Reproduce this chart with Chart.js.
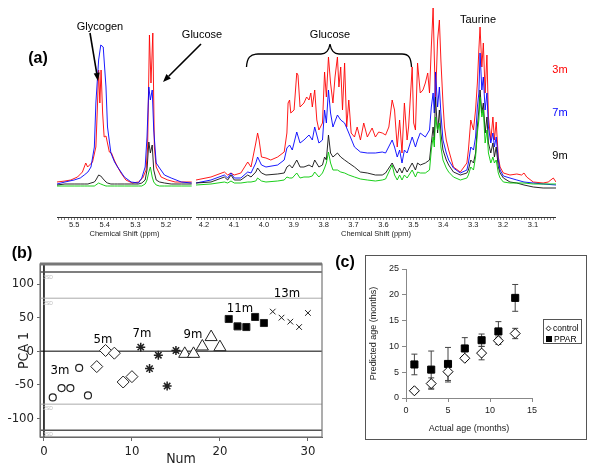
<!DOCTYPE html>
<html>
<head>
<meta charset="utf-8">
<script src="https://cdn.jsdelivr.net/npm/chart.js@4.4.0/dist/chart.umd.min.js"></script>
<style>
  body { margin: 0; background: #fff; }
  #page { position: relative; width: 600px; height: 476px; overflow: hidden; font-family: "Liberation Sans", Arial, sans-serif; }
  canvas { position: absolute; }
  .lbl { position: absolute; transform: translate(-50%, -50%); white-space: nowrap; line-height: 1; }
  .panel { font-weight: bold; font-size: 16px; }
  .note { font-size: 11px; }
  .grp { font-size: 13px; font-family: "Liberation Sans Narrow", "DejaVu Sans Condensed", sans-serif; }
  .sd { font-size: 5px; color: #bbb; }
  #cBox { position: absolute; left: 365px; top: 255px; width: 222px; height: 185px; border: 1px solid #555; box-sizing: border-box; }
  #cLegend { position: absolute; left: 543px; top: 319px; width: 39px; height: 25px; border: 1px solid #555; box-sizing: border-box; font-size: 8.5px; }
  #cLegend div { position: absolute; left: 2px; line-height: 1; white-space: nowrap; }
  .mk { display: inline-block; width: 5px; height: 5px; margin-right: 2px; box-sizing: border-box; }
</style>
</head>
<body>
<div id="page">
  <canvas id="specL" width="135" height="240" style="left:57px;top:0"></canvas>
  <canvas id="specR" width="360" height="240" style="left:196px;top:0"></canvas>
  <canvas id="pcaChart" width="340" height="236" style="left:0;top:240px"></canvas>
  <div id="cBox"><canvas id="ageChart" width="220" height="183" style="left:0;top:0"></canvas></div>

  <svg width="600" height="476" style="position:absolute;left:0;top:0">
    <!-- setas e chave das anotações -->
    <line x1="90" y1="33" x2="96.7" y2="73.1" stroke="#000" stroke-width="1.6"/>
    <polygon points="98,81 93.7,73.6 99.7,72.6" fill="#000"/>
    <line x1="201" y1="44" x2="168.7" y2="76.3" stroke="#000" stroke-width="1.6"/>
    <polygon points="163,82 170.9,78.6 166.4,74.1" fill="#000"/>
    <path d="M246.5,67 C247,58 250,54 258,54 L321,54 C326,54 329,50 330,44 C331,50 334,54 339,54 L402,54 C409,54 411,58 411.5,67" stroke="#000" stroke-width="1.3" fill="none"/>
  </svg>

  <div class="lbl panel" style="left:38px;top:58px">(a)</div>
  <div class="lbl panel" style="left:22px;top:253px">(b)</div>
  <div class="lbl panel" style="left:345px;top:262px">(c)</div>

  <div class="lbl note" style="left:100px;top:26px">Glycogen</div>
  <div class="lbl note" style="left:202px;top:34px">Glucose</div>
  <div class="lbl note" style="left:330px;top:34px">Glucose</div>
  <div class="lbl note" style="left:478px;top:19px">Taurine</div>
  <div class="lbl note" style="left:560px;top:69px;color:#f00">3m</div>
  <div class="lbl note" style="left:560px;top:112px;color:#00f">7m</div>
  <div class="lbl note" style="left:560px;top:155px;color:#000">9m</div>

  <div class="lbl grp" style="left:60px;top:369px">3m</div>
  <div class="lbl grp" style="left:103px;top:338px">5m</div>
  <div class="lbl grp" style="left:142px;top:332px">7m</div>
  <div class="lbl grp" style="left:193px;top:333px">9m</div>
  <div class="lbl grp" style="left:240px;top:307px">11m</div>
  <div class="lbl grp" style="left:287px;top:292px">13m</div>
  <div class="lbl sd" style="left:48px;top:277px">3SD</div>
  <div class="lbl sd" style="left:48px;top:303px">2SD</div>
  <div class="lbl sd" style="left:48px;top:408px">2SD</div>
  <div class="lbl sd" style="left:48px;top:434px">3SD</div>

  <div id="cLegend">
    <div style="top:4px"><span class="mk" style="border:1px solid #000;transform:rotate(45deg) scale(0.85)"></span>control</div>
    <div style="top:15px"><span class="mk" style="background:#000;width:6px;height:6px"></span>PPAR</div>
  </div>
</div>

<script>
Chart.defaults.font.family = '"Liberation Sans", Arial, sans-serif';
Chart.defaults.color = '#222';

// ---- (a) espectros: deslocamento químico (ppm) e intensidade relativa ----
const shiftLeftRed = [5.556, 5.53, 5.511, 5.489, 5.473, 5.462, 5.456, 5.44, 5.429, 5.424,
  5.42, 5.416, 5.412, 5.407, 5.402, 5.396, 5.385, 5.378, 5.369, 5.358,
  5.347, 5.331, 5.31, 5.29, 5.276, 5.265, 5.26, 5.254, 5.249, 5.243,
  5.238, 5.232, 5.216, 5.194, 5.17, 5.116];
const left3m = [8, 9, 10, 13, 18, 27, 23, 28, 43, 83,
  120, 87, 120, 77, 53, 54, 38, 37, 30, 23,
  17, 10, 7, 8, 12, 20, 43, 155, 107, 157,
  43, 23, 13, 10, 8, 8];

const shiftLeft = [5.556, 5.53, 5.5, 5.48, 5.467, 5.455, 5.445, 5.434, 5.429, 5.42,
  5.413, 5.405, 5.396, 5.391, 5.38, 5.368, 5.358, 5.336, 5.314, 5.29,
  5.279, 5.268, 5.262, 5.256, 5.251, 5.245, 5.24, 5.232, 5.221, 5.205,
  5.183, 5.15, 5.116];
const left7m = [6, 8, 10, 12, 15, 18, 23, 43, 87, 130,
  145, 143, 103, 63, 37, 28, 23, 13, 8, 7,
  12, 23, 53, 103, 90, 100, 60, 27, 22, 15,
  12, 8, 7];
const left9m = [5, 6, 6, 6, 6, 6, 7, 8, 10, 15,
  14, 11, 8, 7, 6, 6, 6, 6, 6, 6,
  7, 10, 20, 48, 37, 45, 20, 10, 8, 7,
  6, 6, 6];
const left13m = [4, 4, 4, 4, 4, 4, 4, 4, 5, 7,
  6, 5, 4, 4, 4, 4, 4, 4, 4, 4,
  4, 6, 10, 18, 23, 13, 8, 5, 4, 4,
  4, 4, 4];

const shiftRightRed = [4.227, 4.177, 4.132, 4.121, 4.11, 4.099, 4.077, 4.054, 4.043, 4.027,
  4.021, 4.016, 4.008, 3.993, 3.977, 3.954, 3.932, 3.923, 3.919, 3.914,
  3.91, 3.899, 3.89, 3.886, 3.879, 3.866, 3.857, 3.849, 3.843, 3.838,
  3.83, 3.823, 3.816, 3.804, 3.797, 3.791, 3.784, 3.777, 3.769, 3.762,
  3.754, 3.749, 3.743, 3.737, 3.73, 3.723, 3.716, 3.708, 3.697, 3.688,
  3.677, 3.666, 3.654, 3.638, 3.627, 3.616, 3.604, 3.593, 3.582, 3.571,
  3.563, 3.554, 3.546, 3.538, 3.53, 3.521, 3.516, 3.504, 3.499, 3.493,
  3.486, 3.477, 3.468, 3.46, 3.452, 3.446, 3.44, 3.434, 3.43, 3.426,
  3.419, 3.413, 3.408, 3.401, 3.396, 3.39, 3.382, 3.366, 3.343, 3.321,
  3.316, 3.308, 3.299, 3.292, 3.286, 3.281, 3.277, 3.271, 3.266, 3.26,
  3.254, 3.249, 3.241, 3.234, 3.229, 3.223, 3.216, 3.21, 3.199, 3.177,
  3.154, 3.138, 3.13, 3.121, 3.099, 3.066, 3.049, 3.032, 3.023];
const right3m = [10, 13, 18, 15, 17, 15, 17, 28, 23, 47,
  57, 50, 33, 32, 30, 33, 38, 57, 87, 90,
  77, 80, 117, 115, 83, 87, 93, 90, 97, 83,
  100, 70, 60, 67, 118, 93, 133, 107, 87, 113,
  133, 103, 123, 80, 127, 63, 90, 57, 53, 63,
  50, 67, 53, 62, 53, 58, 57, 55, 63, 90,
  80, 43, 70, 37, 87, 50, 63, 123, 67, 60,
  127, 97, 100, 107, 117, 97, 143, 182, 133, 90,
  150, 170, 130, 87, 63, 50, 40, 23, 18, 27,
  40, 70, 60, 80, 107, 140, 163, 123, 147, 97,
  135, 73, 50, 73, 50, 68, 33, 23, 17, 15,
  16, 15, 17, 13, 8, 7, 8, 12, 8];

const shiftRight = [4.227, 4.177, 4.132, 4.121, 4.11, 4.099, 4.077, 4.054, 4.043, 4.027,
  4.021, 4.008, 3.993, 3.954, 3.932, 3.923, 3.914, 3.905, 3.89, 3.879,
  3.866, 3.849, 3.838, 3.83, 3.816, 3.804, 3.797, 3.791, 3.784, 3.777,
  3.769, 3.754, 3.743, 3.73, 3.716, 3.697, 3.677, 3.654, 3.627, 3.604,
  3.593, 3.571, 3.563, 3.554, 3.546, 3.538, 3.53, 3.521, 3.504, 3.493,
  3.486, 3.477, 3.46, 3.446, 3.44, 3.434, 3.43, 3.426, 3.419, 3.413,
  3.408, 3.401, 3.39, 3.382, 3.366, 3.343, 3.321, 3.316, 3.308, 3.299,
  3.292, 3.286, 3.281, 3.277, 3.271, 3.266, 3.26, 3.254, 3.249, 3.241,
  3.234, 3.229, 3.223, 3.216, 3.21, 3.199, 3.177, 3.154, 3.13, 3.099,
  3.066, 3.023];
const right7m = [7, 10, 15, 12, 17, 12, 12, 18, 17, 27,
  33, 25, 23, 25, 30, 42, 45, 40, 58, 47,
  50, 55, 50, 63, 47, 50, 80, 67, 100, 77,
  63, 75, 70, 67, 57, 43, 38, 37, 37, 38,
  37, 50, 43, 33, 40, 27, 40, 37, 53, 43,
  50, 57, 53, 60, 83, 97, 77, 118, 83, 103,
  77, 50, 37, 30, 22, 17, 20, 27, 43, 40,
  53, 83, 97, 137, 100, 113, 80, 97, 63, 47,
  57, 43, 53, 30, 20, 14, 12, 10, 8, 7,
  6, 5];
const right9m = [7, 8, 13, 10, 15, 10, 10, 15, 13, 18,
  22, 17, 15, 16, 17, 23, 25, 22, 30, 23,
  23, 25, 23, 30, 23, 25, 33, 30, 55, 37,
  33, 37, 33, 30, 27, 23, 18, 17, 15, 15,
  17, 27, 22, 17, 22, 17, 23, 18, 27, 20,
  27, 25, 27, 30, 47, 63, 50, 93, 57, 80,
  57, 40, 30, 25, 18, 15, 17, 20, 30, 27,
  37, 63, 80, 100, 77, 87, 57, 73, 47, 37,
  47, 33, 43, 23, 17, 12, 8, 7, 5, 3,
  2, 2];
const right13m = [5, 6, 8, 7, 9, 7, 7, 8, 8, 9,
  12, 9, 8, 9, 10, 13, 12, 12, 17, 12,
  13, 13, 14, 18, 13, 17, 22, 27, 38, 27,
  20, 20, 18, 17, 15, 13, 11, 10, 9, 10,
  11, 25, 15, 10, 15, 10, 15, 12, 20, 13,
  18, 17, 17, 20, 40, 53, 43, 73, 60, 67,
  43, 30, 22, 18, 13, 10, 12, 15, 23, 20,
  33, 57, 70, 93, 73, 80, 47, 60, 37, 27,
  33, 27, 30, 17, 12, 8, 7, 7, 7, 6,
  6, 6];

// ---- (b) PCA ----
const sampleNum = [1, 2, 3, 4, 5, 6, 7, 8, 9, 10, 11, 12, 13, 14, 15,
  16, 17, 18, 19, 20, 21, 22, 23, 24, 25, 26, 27, 28, 29, 30];
const pca1 = [-69, -55, -55, -25, -66, -23, 1, -3, -46, -38, 6, -26, -6, -52, 1,
  -4, -4, 7, 21, 6, 48, 37, 36, 51, 42, 59, 50, 44, 36, 57];
const ageGroups = ['3m', '5m', '7m', '9m', '11m', '13m'];
const limit3SD = 118;
const limit2SD = 79;

// ---- (c) idade prevista ----
const actualAge = [1, 3, 5, 7, 9, 11, 13];
const controlPred = [1.4, 2.8, 5.1, 7.7, 8.7, 11.1, 12.5];
const controlErr = [0.3, 1.1, 2.0, 0.4, 1.3, 0.7, 1.0];
const pparPred = [6.5, 5.5, 6.6, 9.6, 11.2, 12.9, 19.4];
const pparErr = [2.0, 3.6, 3.2, 2.1, 1.2, 1.9, 2.6];

const isTenth = v => Math.abs(v * 10 - Math.round(v * 10)) < 1e-6;

function trace(ppm, values, color) {
    return {
        data: ppm.map((p, i) => ({ x: p, y: values[i] })),
        borderColor: color,
        borderWidth: 0.9,
        pointRadius: 0,
        tension: 0,
        fill: false
    };
}

function spectrumChart(id, lo, hi, datasets) {
    new Chart(document.getElementById(id), {
        type: 'line',
        data: { datasets: datasets },
        options: {
            animation: false,
            responsive: false,
            layout: { padding: 0 },
            plugins: { legend: { display: false }, tooltip: { enabled: false } },
            scales: {
                x: {
                    type: 'linear', reverse: true, min: lo, max: hi,
                    ticks: {
                        stepSize: 0.01, includeBounds: false, autoSkip: false, maxRotation: 0, minRotation: 0,
                        padding: 0, color: '#222', font: { size: 7.5 },
                        callback: v => isTenth(v) ? v.toFixed(1) : ''
                    },
                    grid: { drawOnChartArea: false, tickLength: 3, color: '#666', lineWidth: 0.8 },
                    border: { color: '#333' },
                    title: { display: true, text: 'Chemical Shift (ppm)', color: '#222', font: { size: 7.5 }, padding: { top: 0, bottom: 2 } },
                    afterFit: s => { s.height = 23; }
                },
                y: { display: false, min: -27, max: 190 }
            }
        }
    });
}

spectrumChart('specL', 5.115, 5.556, [
    trace(shiftLeft, left13m, '#00c800'),
    trace(shiftLeft, left9m, '#111'),
    trace(shiftLeft, left7m, '#0000ff'),
    trace(shiftLeftRed, left3m, '#ff0000')
]);
spectrumChart('specR', 3.023, 4.227, [
    trace(shiftRight, right13m, '#00c800'),
    trace(shiftRight, right9m, '#111'),
    trace(shiftRight, right7m, '#0000ff'),
    trace(shiftRightRed, right3m, '#ff0000')
]);

// moldura da área do gráfico (b)
const frameBox = {
    id: 'frameBox',
    afterDraw(chart) {
        const { ctx, chartArea: a } = chart;
        ctx.save();
        ctx.strokeStyle = '#777';
        ctx.lineWidth = 1.2;
        ctx.strokeRect(a.left, a.top, a.width, a.height);
        ctx.lineWidth = 3;
        ctx.beginPath();
        ctx.moveTo(a.left, a.top);
        ctx.lineTo(a.right, a.top);
        ctx.stroke();
        ctx.restore();
    }
};

const pcaX = { min: -0.45, max: 31.6 };
const pcaY = { min: -128, max: 130 };
const hLine = (y, color, width) => ({
    type: 'line', order: 1, borderColor: color, borderWidth: width, pointRadius: 0,
    data: [{ x: pcaX.min, y: y }, { x: pcaX.max, y: y }]
});

const groupStyles = [
    { pointStyle: 'circle', radius: 3.5, borderWidth: 1.2, bg: '#fff' },
    { pointStyle: 'rectRot', radius: 6, borderWidth: 1, bg: '#fff' },
    { pointStyle: 'star', radius: 4.5, borderWidth: 1.5, bg: '#000' },
    { pointStyle: 'triangle', radius: 7, borderWidth: 1, bg: '#fff' },
    { pointStyle: 'rect', radius: 5, borderWidth: 1, bg: '#000' },
    { pointStyle: 'crossRot', radius: 4, borderWidth: 1, bg: '#000' }
];

const groupSets = ageGroups.map((g, k) => ({
    label: g,
    order: 0,
    data: sampleNum.slice(k * 5, k * 5 + 5).map((n, i) => ({ x: n, y: pca1[k * 5 + i] })),
    pointStyle: groupStyles[k].pointStyle,
    pointRadius: groupStyles[k].radius,
    pointBorderWidth: groupStyles[k].borderWidth,
    pointBorderColor: '#222',
    pointBackgroundColor: groupStyles[k].bg
}));

const narrow = '"Liberation Sans Narrow", "DejaVu Sans Condensed", sans-serif';

new Chart(document.getElementById('pcaChart'), {
    type: 'scatter',
    data: {
        datasets: [
            hLine(limit3SD, '#555', 1.5), hLine(-limit3SD, '#555', 1.5),
            hLine(limit2SD, '#aaa', 1), hLine(-limit2SD, '#aaa', 1),
            hLine(0, '#000', 1),
            { type: 'line', order: 1, borderColor: '#000', borderWidth: 1.5, pointRadius: 0,
              data: [{ x: 0, y: pcaY.min }, { x: 0, y: pcaY.max }] },
            ...groupSets
        ]
    },
    options: {
        animation: false,
        responsive: false,
        layout: { padding: { top: 24, right: 18, left: 0, bottom: 0 } },
        plugins: { legend: { display: false }, tooltip: { enabled: false } },
        scales: {
            x: {
                type: 'linear', min: pcaX.min, max: pcaX.max,
                ticks: { stepSize: 10, includeBounds: false, padding: 3, color: '#222', font: { size: 13, family: narrow } },
                afterBuildTicks: s => { s.ticks = s.ticks.filter(t => t.value % 10 === 0); },
                grid: { drawOnChartArea: false, tickLength: 4, color: '#666' },
                border: { color: '#555' },
                title: { display: true, text: 'Num', color: '#222', font: { size: 14, family: narrow }, padding: { top: 0, bottom: 8 } },
                afterFit: s => { s.height = 39; }
            },
            y: {
                min: pcaY.min, max: pcaY.max,
                ticks: { stepSize: 50, includeBounds: false, padding: 3, color: '#222', font: { size: 13, family: narrow } },
                afterBuildTicks: s => { s.ticks = s.ticks.filter(t => t.value % 50 === 0); },
                grid: { drawOnChartArea: false, tickLength: 3, color: '#666' },
                border: { color: '#555' },
                title: { display: true, text: 'PCA 1', color: '#222', font: { size: 14, family: narrow }, padding: { top: 16, bottom: 0 } },
                afterFit: s => { s.width = 40; }
            }
        }
    },
    plugins: [frameBox]
});

// barras de erro do gráfico (c)
const errorBars = {
    id: 'errorBars',
    beforeDatasetsDraw(chart) {
        const { ctx, scales: { x, y } } = chart;
        const sets = [[controlPred, controlErr], [pparPred, pparErr]];
        ctx.save();
        ctx.strokeStyle = '#444';
        ctx.lineWidth = 1;
        sets.forEach(([pred, err]) => {
            actualAge.forEach((a, i) => {
                const px = x.getPixelForValue(a);
                const top = y.getPixelForValue(pred[i] + err[i]);
                const bot = y.getPixelForValue(pred[i] - err[i]);
                ctx.beginPath();
                ctx.moveTo(px, top); ctx.lineTo(px, bot);
                ctx.moveTo(px - 3, top); ctx.lineTo(px + 3, top);
                ctx.moveTo(px - 3, bot); ctx.lineTo(px + 3, bot);
                ctx.stroke();
            });
        });
        ctx.restore();
    }
};

new Chart(document.getElementById('ageChart'), {
    type: 'scatter',
    data: {
        datasets: [
            {
                label: 'control',
                data: actualAge.map((a, i) => ({ x: a, y: controlPred[i] })),
                pointStyle: 'rectRot', pointRadius: 5, pointBorderWidth: 1,
                pointBorderColor: '#000', pointBackgroundColor: '#fff'
            },
            {
                label: 'PPAR',
                data: actualAge.map((a, i) => ({ x: a, y: pparPred[i] })),
                pointStyle: 'rect', pointRadius: 5, pointBorderWidth: 1,
                pointBorderColor: '#000', pointBackgroundColor: '#000'
            }
        ]
    },
    options: {
        animation: false,
        responsive: false,
        layout: { padding: { top: 13, right: 54, left: 0, bottom: 0 } },
        plugins: { legend: { display: false }, tooltip: { enabled: false } },
        scales: {
            x: {
                type: 'linear', min: 0, max: 15,
                ticks: { stepSize: 5, padding: 3, color: '#222', font: { size: 9 } },
                grid: { drawOnChartArea: false, tickLength: 4, color: '#888' },
                border: { color: '#888' },
                title: { display: true, text: 'Actual age (months)', color: '#222', font: { size: 9 }, padding: { top: 0, bottom: 5 } },
                afterFit: s => { s.height = 41; }
            },
            y: {
                min: 0, max: 25,
                ticks: { stepSize: 5, padding: 3, color: '#222', font: { size: 9 } },
                grid: { drawOnChartArea: false, tickLength: 4, color: '#888' },
                border: { color: '#888' },
                title: { display: true, text: 'Predicted age (months)', color: '#222', font: { size: 9 }, padding: { top: 2, bottom: 0 } },
                afterFit: s => { s.width = 40; }
            }
        }
    },
    plugins: [errorBars]
});
</script>
</body>
</html>
